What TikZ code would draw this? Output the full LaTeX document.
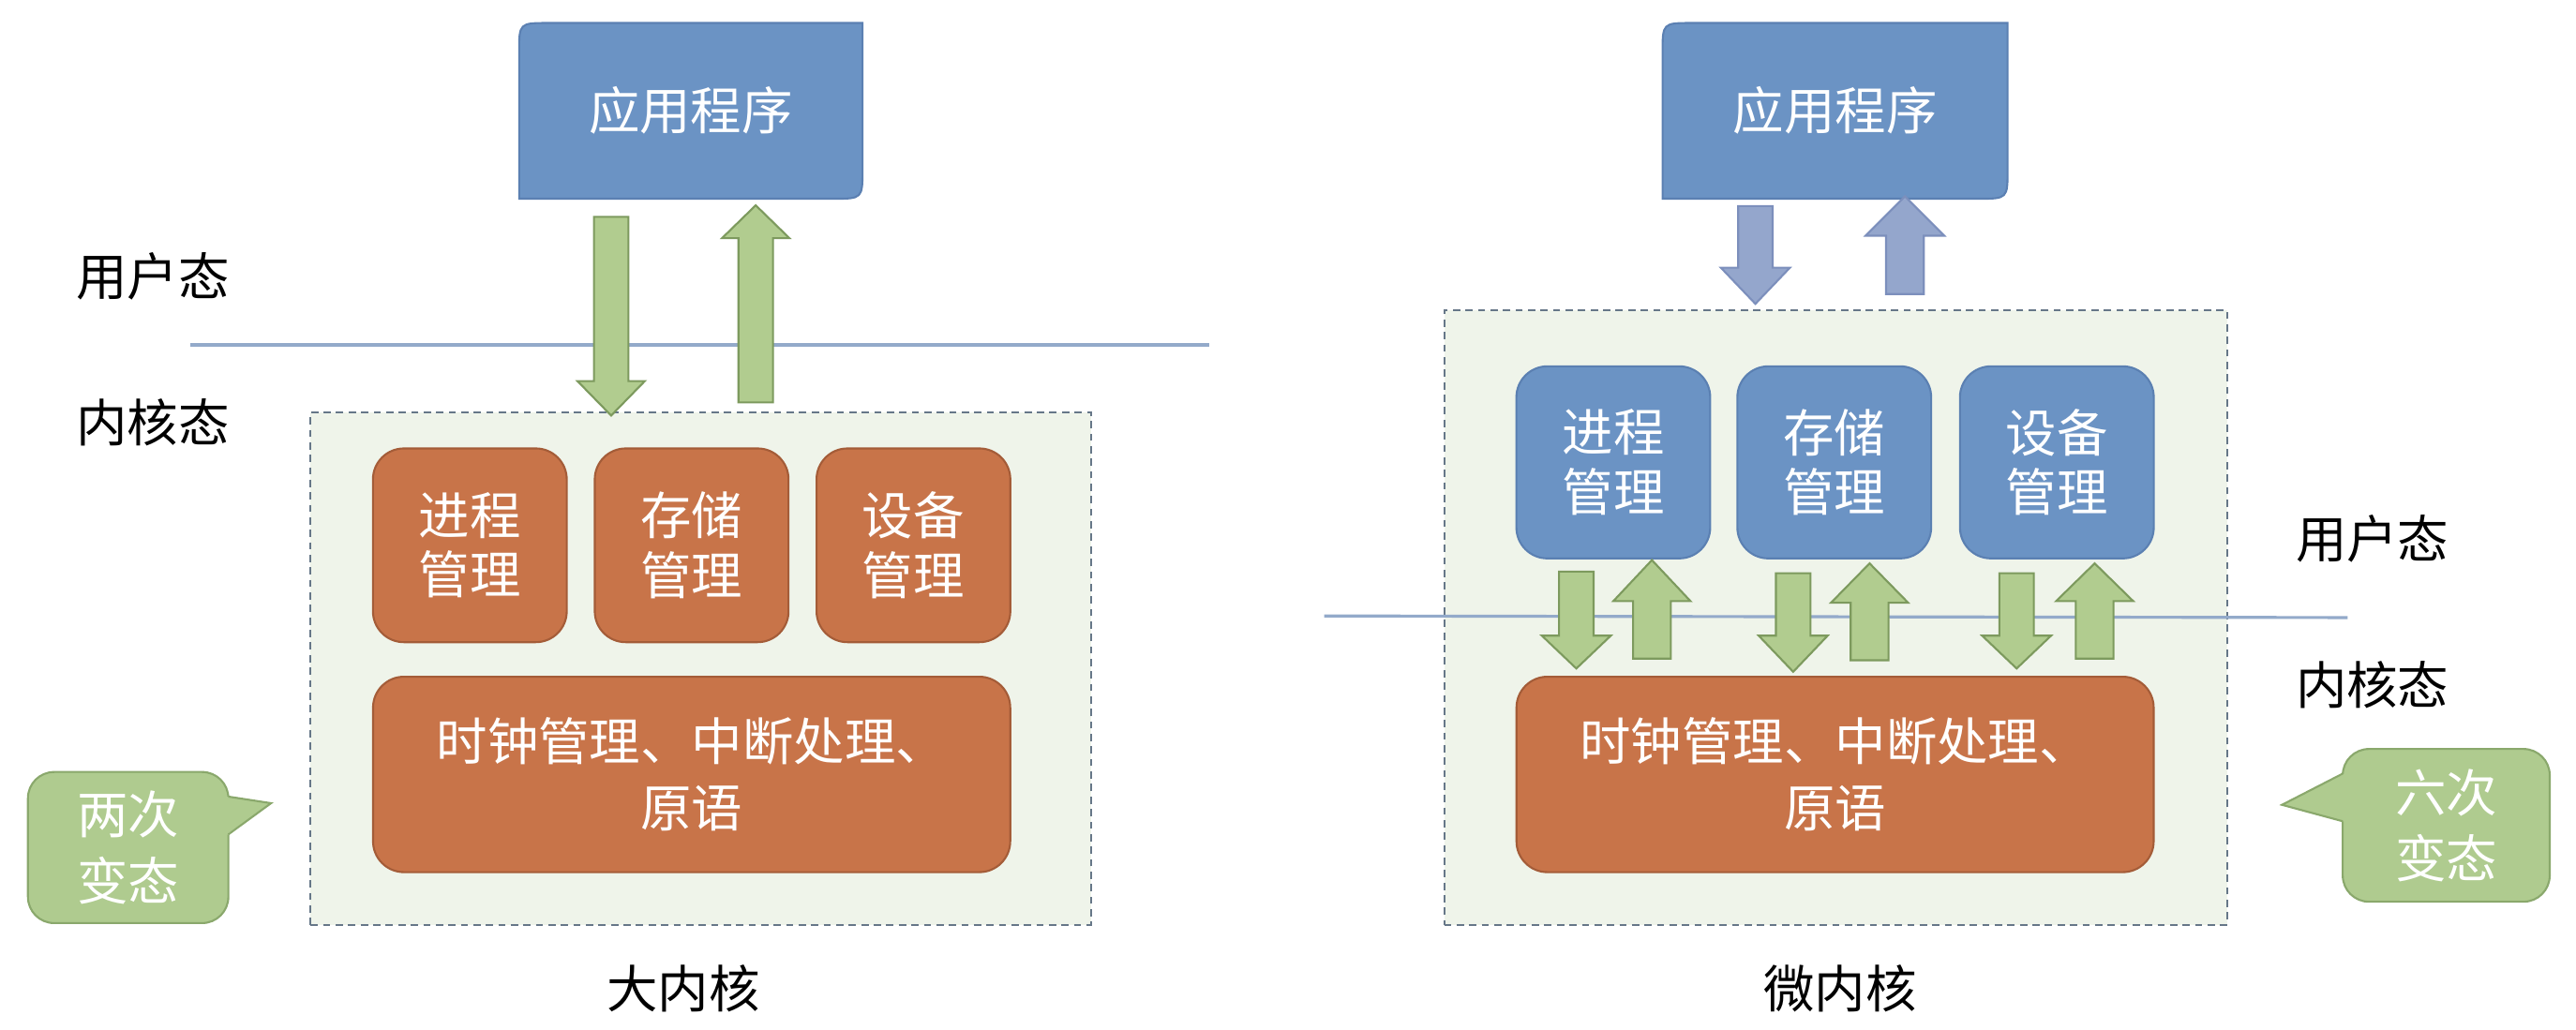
\documentclass[tikz,border=0pt]{standalone}
\usepackage{fontspec}
\setmainfont{Noto Sans CJK SC}
\definecolor{appblue}{HTML}{6B93C4}
\definecolor{appblueb}{HTML}{5B80B2}
\definecolor{korange}{HTML}{C87449}
\definecolor{korangeb}{HTML}{A45C38}
\definecolor{agreen}{HTML}{B1CC8F}
\definecolor{agreenb}{HTML}{7D9A5E}
\definecolor{agray}{HTML}{94A6CC}
\definecolor{agrayb}{HTML}{7C8FBC}
\definecolor{cgreen}{HTML}{AFCB8F}
\definecolor{cgreenb}{HTML}{8AA86C}
\definecolor{kfill}{HTML}{EFF4EA}
\definecolor{kborder}{HTML}{667788}
\definecolor{sline}{HTML}{93AACA}
\newcommand\blockarrow[7]{\draw[#1] ({#2-#6},#3) -- ({#2+#6},#3) -- ({#2+#6},#4) -- ({#2+#7},#4) -- (#2,#5) -- ({#2-#7},#4) -- ({#2-#6},#4) -- cycle;}
\tikzset{
  boxtext/.style={text=white, font=\fontsize{15.5}{18}\selectfont, align=center, inner sep=0pt},
  kbox/.style={draw=korangeb, fill=korange, line width=0.6pt, rounded corners=0.33cm, boxtext},
  bbox/.style={draw=appblueb, fill=appblue, line width=0.6pt, rounded corners=0.33cm, boxtext},
  kernel/.style={draw=kborder, fill=kfill, line width=0.6pt, dash pattern=on 2.2pt off 1.6pt},
  greenarrow/.style={draw=agreenb, fill=agreen, line width=0.6pt},
  grayarrow/.style={draw=agrayb, fill=agray, line width=0.6pt},
  callout/.style={draw=cgreenb, fill=cgreen, line width=0.6pt, rounded corners=0.28cm},
  plain/.style={text=black, font=\fontsize{15.5}{18}\selectfont, inner sep=0pt},
  stateline/.style={draw=sline, line width=0.9pt},
  appshape/.style={draw=appblueb, fill=appblue, line width=0.6pt}
}
\begin{document}
\begin{tikzpicture}[x=0.017526cm, y=-0.017526cm]
\useasboundingbox (0,0) rectangle (1568,627);

% ================= LEFT: 大内核 =================
\draw[appshape] (316,121) -- (316,32) .. controls (316,14) .. (334,14) -- (525,14) -- (525,103) .. controls (525,121) .. (507,121) -- cycle;
\node[boxtext] (app1) at (420.5,67) {应用程序};

\coordinate (l1a) at (116,210);
\coordinate (l1b) at (736,210);
\draw[stateline] (l1a) -- (l1b);

\node[kernel, minimum width=8.325cm, minimum height=5.468cm] (K1) at (426.5,407) {};

\blockarrow{greenarrow}{372}{132}{232}{253}{10.5}{20.5}
\blockarrow{greenarrow}{460}{245}{145}{125}{10.5}{20.5}

\node[plain] (u1) at (93,168) {用户态};
\node[plain] (k1) at (93,257) {内核态};

\node[kbox, minimum width=2.068cm, minimum height=2.068cm] (p1) at (286,332) {进程\\管理};
\node[kbox, minimum width=2.068cm, minimum height=2.068cm] (m1) at (421,332) {存储\\管理};
\node[kbox, minimum width=2.068cm, minimum height=2.068cm] (d1) at (556,332) {设备\\管理};
\node[kbox, minimum width=6.8cm, minimum height=2.086cm, font=\fontsize{15.5}{20}\selectfont] (c1) at (421,471.5) {时钟管理、中断处理、\\原语};

\draw[callout] (139,508) -- (139,562) -- (17,562) -- (17,470) -- (139,470) -- (139,485);
\fill[cgreen] (138,485) -- (165,489) -- (138,508) -- cycle;
\draw[cgreenb, line width=0.6pt, line join=miter] (139,485) -- (165,489) -- (139,508);
\node[boxtext, font=\fontsize{15.5}{20}\selectfont] (t1) at (78,516) {两次\\变态};

\node[plain] (n1) at (416,602) {大内核};

% ================= RIGHT: 微内核 =================
\draw[appshape] (1012,121) -- (1012,32) .. controls (1012,14) .. (1030,14) -- (1222,14) -- (1222,103) .. controls (1222,121) .. (1204,121) -- cycle;
\node[boxtext] (app2) at (1117,67) {应用程序};

\blockarrow{grayarrow}{1068.5}{125.5}{163}{185}{10.5}{21}
\blockarrow{grayarrow}{1159.5}{179}{143.5}{119.5}{11.5}{24}

\node[kernel, minimum width=8.36cm, minimum height=6.555cm] (K2) at (1117.5,376) {};

\node[bbox, minimum width=2.068cm, minimum height=2.05cm] (p2) at (982,281.5) {进程\\管理};
\node[bbox, minimum width=2.068cm, minimum height=2.05cm] (m2) at (1116.5,281.5) {存储\\管理};
\node[bbox, minimum width=2.068cm, minimum height=2.05cm] (d2) at (1252,281.5) {设备\\管理};

\coordinate (l2a) at (806,375);
\coordinate (l2b) at (1429,376);
\draw[stateline] (l2a) -- (l2b);

\blockarrow{greenarrow}{959.5}{348}{387}{407}{10.5}{21}
\blockarrow{greenarrow}{1005.5}{401}{366}{341}{11.5}{23.5}
\blockarrow{greenarrow}{1091.5}{349}{387}{409}{10.5}{21}
\blockarrow{greenarrow}{1138}{402}{367}{343}{11.5}{23.5}
\blockarrow{greenarrow}{1227.5}{349}{387}{407}{10.5}{21}
\blockarrow{greenarrow}{1275}{401}{366}{343}{11.5}{23.5}

\node[kbox, minimum width=6.8cm, minimum height=2.086cm, font=\fontsize{15.5}{20}\selectfont] (c2) at (1117,471.5) {时钟管理、中断处理、\\原语};

\node[plain] (u2) at (1444,328) {用户态};
\node[plain] (k2) at (1444,417) {内核态};

\draw[callout] (1426,471) -- (1426,456) -- (1552,456) -- (1552,549) -- (1426,549) -- (1426,500);
\fill[cgreen] (1427,471) -- (1389,490) -- (1427,500) -- cycle;
\draw[cgreenb, line width=0.6pt, line join=miter] (1426,471) -- (1389,490) -- (1426,500);
\node[boxtext, font=\fontsize{15.5}{20}\selectfont] (t2) at (1489,502.5) {六次\\变态};

\node[plain] (n2) at (1120,602) {微内核};
\end{tikzpicture}
\end{document}
